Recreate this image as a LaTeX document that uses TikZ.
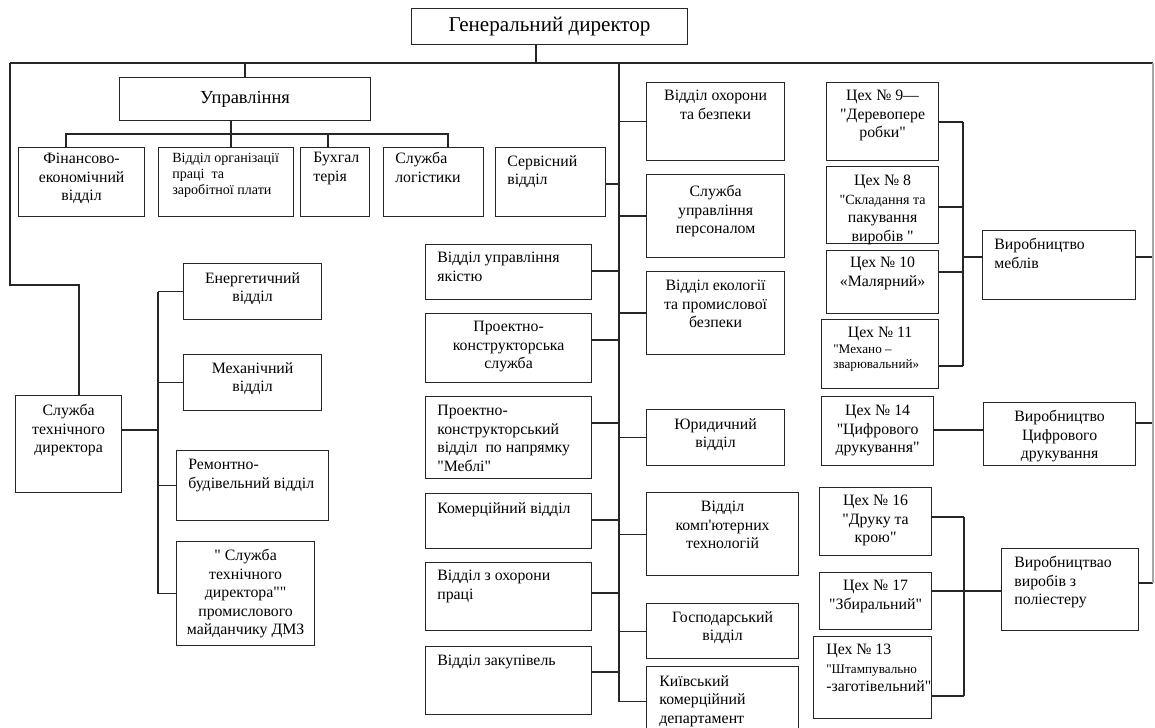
\documentclass[tikz,border=0pt]{standalone}
\usepackage{fontspec}
\setmainfont{Liberation Serif}[Ligatures=TeXOff]
\usetikzlibrary{positioning}

\tikzset{
	unit/.style={draw=black!85, line width=0.7pt, anchor=north west, inner sep=0pt},
	lbl/.style={inner sep=0pt, align=center, font=\fontsize{9}{10.5}\selectfont},
	lbll/.style={lbl, align=left},
	fine/.style={font=\fontsize{8}{9}\selectfont},
	wire/.style={draw=black!85, line width=0.7pt},
}

\begin{document}
\begin{tikzpicture}[x=0.02cm,y=-0.02cm]
		\useasboundingbox (0,0) rectangle (1155,727);
		% top level
		\node[unit,minimum width=5.52cm,minimum height=0.72cm,font=\fontsize{12}{14}\selectfont] (gd) at (411,8) {Генеральний директор};
		\node[unit,minimum width=5.02cm,minimum height=0.86cm,font=\fontsize{10.5}{12}\selectfont] (upr) at (119,77) {Управління};
		
		% boxes
		\node[unit,minimum width=2.52cm,minimum height=1.38cm] (fin) at (18,147) {};
		\node[unit,minimum width=2.70cm,minimum height=1.38cm] (org) at (158,147) {};
		\node[unit,minimum width=1.38cm,minimum height=1.38cm] (buh) at (300,147) {};
		\node[unit,minimum width=2.00cm,minimum height=1.38cm] (log) at (383,147) {};
		\node[unit,minimum width=2.20cm,minimum height=1.38cm] (serv) at (495,147) {};
		
		\node[unit,minimum width=2.12cm,minimum height=1.94cm] (tech) at (15,395) {};
		\node[unit,minimum width=2.76cm,minimum height=1.12cm] (en) at (183,263) {};
		\node[unit,minimum width=2.76cm,minimum height=1.12cm] (mech) at (183,354) {};
		\node[unit,minimum width=3.04cm,minimum height=1.40cm] (rem) at (176,450) {};
		\node[unit,minimum width=2.76cm,minimum height=2.08cm] (dmz) at (176,541) {};
		
		\node[unit,minimum width=3.32cm,minimum height=1.10cm] (yak) at (425,244) {};
		\node[unit,minimum width=3.32cm,minimum height=1.38cm] (pks) at (425,313) {};
		\node[unit,minimum width=3.32cm,minimum height=1.64cm] (pkv) at (425,396) {};
		\node[unit,minimum width=3.32cm,minimum height=1.10cm] (kom) at (425,493) {};
		\node[unit,minimum width=3.32cm,minimum height=1.36cm] (ohp) at (425,562) {};
		\node[unit,minimum width=3.32cm,minimum height=1.36cm] (zak) at (425,646) {};
		
		\node[unit,minimum width=2.76cm,minimum height=1.56cm] (ohr) at (646,82) {};
		\node[unit,minimum width=2.76cm,minimum height=1.66cm] (pers) at (646,174) {};
		\node[unit,minimum width=2.76cm,minimum height=1.66cm] (eko) at (646,271) {};
		\node[unit,minimum width=2.76cm,minimum height=1.12cm] (yur) at (646,409) {};
		\node[unit,minimum width=3.04cm,minimum height=1.66cm] (komp) at (646,492) {};
		\node[unit,minimum width=3.04cm,minimum height=1.10cm] (gosp) at (646,603) {};
		\node[unit,minimum width=3.04cm,minimum height=1.38cm] (kyiv) at (646,666) {};
		
		\node[unit,minimum width=2.24cm,minimum height=1.56cm] (c9) at (826,82) {};
		\node[unit,minimum width=2.24cm,minimum height=1.54cm] (c8) at (826,166) {};
		\node[unit,minimum width=2.24cm,minimum height=1.26cm] (c10) at (826,250) {};
		\node[unit,minimum width=2.34cm,minimum height=1.38cm] (c11) at (821,319) {};
		\node[unit,minimum width=2.24cm,minimum height=1.38cm] (c14) at (821,396) {};
		\node[unit,minimum width=2.24cm,minimum height=1.36cm] (c16) at (819,487) {};
		\node[unit,minimum width=2.24cm,minimum height=1.14cm] (c17) at (819,572) {};
		\node[unit,minimum width=2.36cm,minimum height=1.64cm] (c13) at (813,636) {};
		
		\node[unit,minimum width=3.06cm,minimum height=1.38cm] (meb) at (982,230) {};
		\node[unit,minimum width=3.04cm,minimum height=1.26cm] (cif) at (983,402) {};
		\node[unit,minimum width=2.74cm,minimum height=1.64cm] (pol) at (1001,548) {};
		
		% texts
		\node[lbl,below=0.12cm of fin.north] (fin-t) {Фінансово-\\економічний\\відділ};
		\node[lbll,fine,below right=0.12cm and 0.28cm of org.north west] (org-t) {Відділ організації\\праці~ та\\заробітної плати};
		\node[lbll,below right=0.10cm and 0.26cm of buh.north west] (buh-t) {Бухгал\\терія};
		\node[lbll,below right=0.10cm and 0.24cm of log.north west] (log-t) {Служба\\логістики};
		\node[lbll,below right=0.16cm and 0.24cm of serv.north west] (serv-t) {Сервісний\\відділ};
		
		\node[lbl,below=0.18cm of tech.north] (tech-t) {Служба\\технічного\\директора};
		\node[lbl,below=0.18cm of en.north] (en-t) {Енергетичний\\відділ};
		\node[lbl,below=0.16cm of mech.north] (mech-t) {Механічний\\відділ};
		\node[lbll,below right=0.18cm and 0.24cm of rem.north west] (rem-t) {Ремонтно-\\будівельний відділ};
		\node[lbl,below=0.16cm of dmz.north] (dmz-t) {" Служба\\технічного\\директора""\\промислового\\майданчику ДМЗ};
		
		\node[lbll,below right=0.16cm and 0.24cm of yak.north west] (yak-t) {Відділ управління\\якістю};
		\node[lbl,below=0.16cm of pks.north] (pks-t) {Проектно-\\конструкторська\\служба};
		\node[lbll,below right=0.18cm and 0.24cm of pkv.north west] (pkv-t) {Проектно-\\конструкторський\\відділ~ по напрямку\\"Меблі"};
		\node[lbll,below right=0.18cm and 0.24cm of kom.north west] (kom-t) {Комерційний відділ};
		\node[lbll,below right=0.16cm and 0.24cm of ohp.north west] (ohp-t) {Відділ з охорони\\праці};
		\node[lbll,below right=0.18cm and 0.24cm of zak.north west] (zak-t) {Відділ закупівель};
		
		\node[lbl,below=0.16cm of ohr.north] (ohr-t) {Відділ охорони\\та безпеки};
		\node[lbl,below=0.22cm of pers.north] (pers-t) {Служба\\управління\\персоналом};
		\node[lbl,below=0.18cm of eko.north] (eko-t) {Відділ екології\\та промислової\\безпеки};
		\node[lbl,below=0.18cm of yur.north] (yur-t) {Юридичний\\відділ};
		\node[lbl,below=0.18cm of komp.north] (komp-t) {Відділ\\комп'ютерних\\технологій};
		\node[lbl,below=0.16cm of gosp.north] (gosp-t) {Господарський\\відділ};
		\node[lbll,below right=0.18cm and 0.26cm of kyiv.north west] (kyiv-t) {Київський\\комерційний\\департамент};
		
		\node[lbl,below=0.16cm of c9.north] (c9-t) {Цех № 9—\\"Деревопере\\робки"};
		\node[lbl,below=0.18cm of c8.north] (c8-t) {Цех № 8\\\fontsize{8}{9}\selectfont "Складання та\\пакування\\виробів "};
		\node[lbl,below=0.14cm of c10.north] (c10-t) {Цех № 10\\«Малярний»};
		\node[lbl,below=0.16cm of c11.north] (c11-t) {Цех № 11};
		\node[lbll,font=\fontsize{7.5}{8.5}\selectfont,below right=0.52cm and 0.24cm of c11.north west] (c11-s) {"Механо –\\зварювальний»};
		\node[lbl,below=0.18cm of c14.north] (c14-t) {Цех № 14\\"Цифрового\\друкування"};
		\node[lbl,below=0.16cm of c16.north] (c16-t) {Цех № 16\\"Друку та\\крою"};
		\node[lbl,below=0.16cm of c17.north] (c17-t) {Цех № 17\\"Збиральний"};
		\node[lbll,below right=0.16cm and 0.26cm of c13.north west] (c13-t) {Цех № 13\\\fontsize{7.5}{8.5}\selectfont "Штампувально\\-заготівельний"};
		
		\node[lbll,below right=0.16cm and 0.24cm of meb.north west] (meb-t) {Виробництво\\меблів};
		\node[lbl,below=0.16cm of cif.north] (cif-t) {Виробництво\\Цифрового\\друкування};
		\node[lbll,below right=0.16cm and 0.26cm of pol.north west] (pol-t) {Виробництвао\\виробів з\\поліестеру};
		
		% connectors
		\coordinate (tl) at (10,63);
		\coordinate (tr) at (1153,63);
		\coordinate (cb) at (619,63);
		\draw[wire] (tl)--(tr);
		\draw[wire] (gd.south -| 536,0)--(tl -| 536,0);
		\draw[wire] (tl -| 245,0)--(upr.north -| 245,0);
		
		\coordinate (ub) at (231,134);
		\draw[wire] (upr.south -| ub)--(ub);
		\draw[wire] (fin.north -| 66,0)--(66,134)--(448,134)--(log.north -| 448,0);
		\draw[wire] (org.north -| ub)--(ub);
		\draw[wire] (buh.north -| 328,0)--(328,134);
		\draw[wire] (serv.east |- 0,184)--(cb |- 0,184);
		
		\draw[wire] (tl) |- (79,285)--(tech.north -| 79,0);
		\coordinate (tb) at (158,430);
		\draw[wire] (tech.east |- tb)--(tb);
		\draw[wire] (tb |- en.west)--(tb |- dmz.west);
		\foreach \n in {en,mech,rem,dmz}
			\draw[wire] (tb |- \n.west)--(\n.west);
		
		\draw[wire] (cb)--(cb |- kyiv.west)--(kyiv.west);
		\foreach \n/\y in {yak/271,pks/340,pkv/423,kom/520,ohp/593,zak/672}
			\draw[wire] (\n.east |- 0,\y)--(cb |- 0,\y);
		\foreach \n in {ohr,pers,eko,yur,komp,gosp}
			\draw[wire] (cb |- \n.west)--(\n.west);
		
		\coordinate (fb) at (963,257);
		\foreach \n/\y in {c9/122,c8/207,c10/272,c11/366}
			\draw[wire] (\n.east |- 0,\y)--(fb |- 0,\y);
		\draw[wire] (fb |- 0,122)--(fb |- 0,366);
		\draw[wire] (fb)--(meb.west |- fb);
		\draw[wire] (c14.east |- 0,430)--(cif.west |- 0,430);
		
		\coordinate (pb) at (964,591);
		\foreach \n/\y in {c16/517,c17/591,c13/696}
			\draw[wire] (\n.east |- 0,\y)--(pb |- 0,\y);
		\draw[wire] (pb |- 0,517)--(pb |- 0,696);
		\draw[wire] (pb)--(pol.west |- pb);
		
		\foreach \n/\y in {meb/257,cif/423,pol/583}
			\draw[wire] (\n.east |- 0,\y)--(tr |- 0,\y);
		\draw[wire,draw=black!35] (tr)--(tr |- 0,583);
	\end{tikzpicture}
\end{document}
